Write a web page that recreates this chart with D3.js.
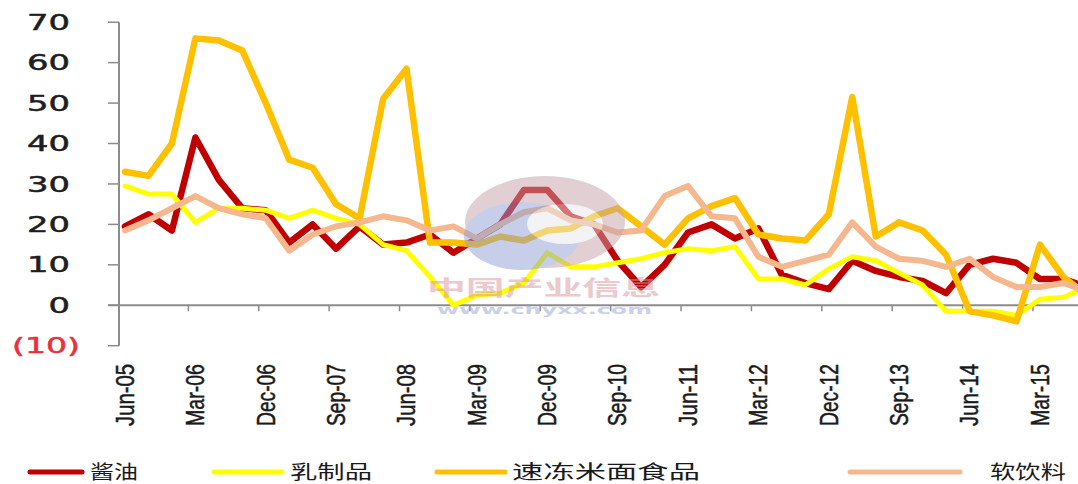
<!DOCTYPE html>
<html>
<head>
<meta charset="utf-8">
<script src="https://cdn.jsdelivr.net/npm/d3@7"></script>
<style>
  body { margin: 0; background: #fff; }
  svg { display: block; }
</style>
</head>
<body>
<script>
const categories = [
  "Jun-05", "Sep-05", "Dec-05", "Mar-06", "Jun-06", "Sep-06", "Dec-06",
  "Mar-07", "Jun-07", "Sep-07", "Dec-07", "Mar-08", "Jun-08", "Sep-08",
  "Dec-08", "Mar-09", "Jun-09", "Sep-09", "Dec-09", "Mar-10", "Jun-10",
  "Sep-10", "Dec-10", "Mar-11", "Jun-11", "Sep-11", "Dec-11", "Mar-12",
  "Jun-12", "Sep-12", "Dec-12", "Mar-13", "Jun-13", "Sep-13", "Dec-13",
  "Mar-14", "Jun-14", "Sep-14", "Dec-14", "Mar-15", "Jun-15", "Sep-15"
];

// 酱油
const soySauce = [
  19.5, 22.5, 18.5, 41.5, 31, 24, 23.5, 15.5, 20, 14, 19.5, 15, 15.5, 17.5,
  13, 16.5, 20, 28.5, 28.5, 22, 20, 11, 4.5, 10, 18, 20, 16.5, 19,
  7.5, 5.5, 4, 11, 8.5, 7, 6, 3, 10, 11.5, 10.5, 6.5, 6.5, 4.5
];
// 乳制品
const dairy = [
  29.5, 27.5, 27.5, 20.5, 24, 24, 23.5, 21.5, 23.5, 21.5, 20, 15, 13.5, 7,
  0, 2.5, 3, 5.5, 13, 9.5, 9.5, 10.5, 11.5, 13, 14, 13.5, 14.5, 6.5,
  6.5, 5, 9, 12, 11, 8, 5, -1.5, -1.5, -1.5, -2.5, 1.5, 2, 4.5
];
// 速冻米面食品
const frozenFood = [
  33, 32, 40, 66, 65.5, 63, 50, 36, 34, 25, 21.5, 51, 58.5, 15.5,
  15.5, 15, 17, 16, 18.5, 19, 22, 24, 19.5, 15, 21.5, 24.5, 26.5, 17.5,
  16.5, 16, 22.5, 51.5, 17, 20.5, 18.5, 12.5, -1.5, -2.5, -4, 15, 7, 2.5
];
// 软饮料
const softDrinks = [
  18.5, 21, 24, 27, 24, 22.5, 21.5, 13.5, 17.5, 19.5, 20.5, 22, 21, 18.5,
  19.5, 16.5, 20, 23, 24, 21, 20, 18, 18.5, 27, 29.5, 22, 21.5, 12,
  9.5, 11, 12.5, 20.5, 14.5, 11.5, 11, 9.5, 11.5, 7, 4.5, 4.5, 5.5, 3.5
];

const seriesNames = ["酱油", "乳制品", "速冻米面食品", "软饮料"];
const seriesColors = ["#C00000", "#FFFF00", "#FFC000", "#F5B88E"];
const seriesWidths = [6.5, 5, 6.5, 6];
const yTicks = [-10, 0, 10, 20, 30, 40, 50, 60, 70];

const width = 1078;
const height = 484;

const svg = d3.select("body")
  .append("svg")
  .attr("width", width)
  .attr("height", height);

const x = d3.scalePoint()
  .domain(categories)
  .range([125, 125 + 23.46 * (categories.length - 1)]);

const y = d3.scaleLinear()
  .domain([-10, 70])
  .range([345.7, 22.2]);

const axisColor = "#8c8c8c";
const axisX = 119;

// y axis
svg.append("line")
  .attr("x1", axisX).attr("x2", axisX)
  .attr("y1", y(70)).attr("y2", y(-10))
  .attr("stroke", axisColor).attr("stroke-width", 2);

svg.selectAll(".ytick")
  .data(yTicks)
  .enter().append("line")
  .attr("class", "ytick")
  .attr("x1", axisX - 11).attr("x2", axisX)
  .attr("y1", d => y(d)).attr("y2", d => y(d))
  .attr("stroke", axisColor).attr("stroke-width", 1.5);

svg.selectAll(".ylabel")
  .data(yTicks)
  .enter().append("text")
  .attr("class", "ylabel")
  .attr("x", d => d < 0 ? 80 : 70)
  .attr("y", d => y(d))
  .attr("dy", "0.36em")
  .attr("text-anchor", "end")
  .attr("font-family", "DejaVu Sans")
  .attr("font-size", 21)
  .attr("fill", d => d < 0 ? "#e8313c" : "#1e1e1e")
  .attr("stroke", d => d < 0 ? "#e8313c" : "#1e1e1e")
  .attr("stroke-width", 0.5)
  .attr("textLength", d => d < 0 ? 68 : String(d).length * 21.5)
  .attr("lengthAdjust", "spacingAndGlyphs")
  .text(d => d < 0 ? `(${-d})` : d);

// x axis at zero
svg.append("line")
  .attr("x1", axisX - 11).attr("x2", width)
  .attr("y1", y(0)).attr("y2", y(0))
  .attr("stroke", axisColor).attr("stroke-width", 2);

const labelled = categories.filter((d, i) => i % 3 === 0);

svg.selectAll(".xtick")
  .data(labelled.slice(1))
  .enter().append("line")
  .attr("class", "xtick")
  .attr("x1", d => x(d) - 7).attr("x2", d => x(d) - 7)
  .attr("y1", y(0)).attr("y2", y(0) + 6)
  .attr("stroke", axisColor).attr("stroke-width", 1.5);

svg.selectAll(".xlabel")
  .data(labelled)
  .enter().append("text")
  .attr("class", "xlabel")
  .attr("transform", d => `translate(${x(d)},364) rotate(-90)`)
  .attr("dy", "0.35em")
  .attr("text-anchor", "end")
  .attr("font-family", "Liberation Sans")
  .attr("font-size", 25)
  .attr("fill", "#1a1a1a")
  .attr("stroke", "#1a1a1a")
  .attr("stroke-width", 0.5)
  .attr("textLength", 62)
  .attr("lengthAdjust", "spacingAndGlyphs")
  .text(d => d);

// lines
const line = d3.line()
  .x((d, i) => x(categories[i]))
  .y(d => y(d));

const allSeries = [soySauce, dairy, frozenFood, softDrinks];

svg.selectAll(".series")
  .data(allSeries)
  .enter().append("path")
  .attr("class", "series")
  .attr("d", line)
  .attr("fill", "none")
  .attr("stroke", (d, i) => seriesColors[i])
  .attr("stroke-width", (d, i) => seriesWidths[i])
  .attr("stroke-linejoin", "round")
  .attr("stroke-linecap", "round");

// watermark
const wm = svg.append("g").attr("opacity", 0.5);
wm.append("ellipse")
  .attr("cx", 545).attr("cy", 222).attr("rx", 80).attr("ry", 46)
  .attr("fill", "#c4a0aa");
wm.append("ellipse")
  .attr("cx", 522).attr("cy", 236).attr("rx", 58).attr("ry", 34)
  .attr("fill", "#8f9fd6");
wm.append("ellipse")
  .attr("cx", 565).attr("cy", 224).attr("rx", 38).attr("ry", 20)
  .attr("fill", "#e8e8ee");
wm.append("text")
  .attr("x", 427).attr("y", 295)
  .attr("font-family", "Noto Sans CJK SC")
  .attr("font-weight", "bold")
  .attr("font-size", 21)
  .attr("fill", "#d8949c")
  .attr("textLength", 233)
  .attr("lengthAdjust", "spacingAndGlyphs")
  .text("中国产业信息");
wm.append("text")
  .attr("x", 437).attr("y", 314)
  .attr("font-family", "DejaVu Sans")
  .attr("font-weight", "bold")
  .attr("font-size", 13)
  .attr("fill", "#9aa2d0")
  .attr("textLength", 215)
  .attr("lengthAdjust", "spacingAndGlyphs")
  .text("www.chyxx.com");

// legend
const legendPos = [
  { x0: 30, x1: 82, tx: 90, tw: 48 },
  { x0: 214, x1: 282, tx: 290, tw: 82 },
  { x0: 437, x1: 505, tx: 512, tw: 188 },
  { x0: 850, x1: 960, tx: 990, tw: 76 }
];

const legend = svg.selectAll(".legend")
  .data(seriesNames)
  .enter().append("g")
  .attr("class", "legend");

legend.append("line")
  .attr("x1", (d, i) => legendPos[i].x0)
  .attr("x2", (d, i) => legendPos[i].x1)
  .attr("y1", 472).attr("y2", 472)
  .attr("stroke", (d, i) => seriesColors[i])
  .attr("stroke-width", 5)
  .attr("stroke-linecap", "round");

legend.append("text")
  .attr("x", (d, i) => legendPos[i].tx)
  .attr("y", 479)
  .attr("font-family", "Noto Sans CJK SC")
  .attr("font-size", 19)
  .attr("fill", "#1a1a1a")
  .attr("textLength", (d, i) => legendPos[i].tw)
  .attr("lengthAdjust", "spacingAndGlyphs")
  .text(d => d);
</script>
</body>
</html>
